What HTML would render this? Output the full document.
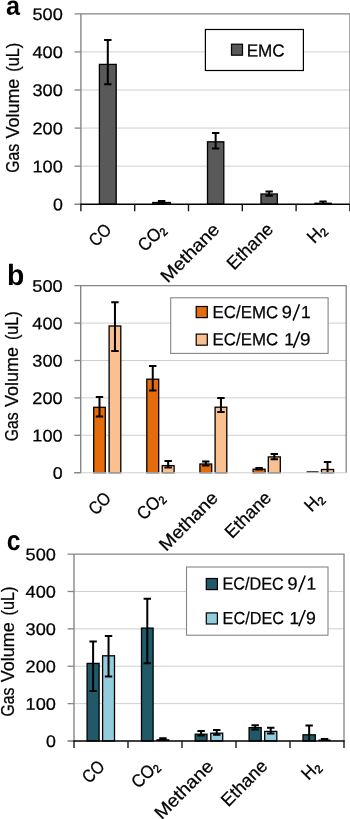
<!DOCTYPE html>
<html><head><meta charset="utf-8"><title>Gas volume charts</title>
<style>
html,body{margin:0;padding:0;background:#fff;}
svg{display:block;font-family:"Liberation Sans",sans-serif;fill:#000;will-change:transform;}
</style></head><body>
<svg width="350" height="819" viewBox="0 0 350 819">
<rect x="0" y="0" width="350" height="819" fill="#fff"/>
<line x1="80.90" y1="166.17" x2="349.90" y2="166.17" stroke="#cfcfcf" stroke-width="1"/>
<line x1="80.90" y1="128.09" x2="349.90" y2="128.09" stroke="#cfcfcf" stroke-width="1"/>
<line x1="80.90" y1="90.01" x2="349.90" y2="90.01" stroke="#cfcfcf" stroke-width="1"/>
<line x1="80.90" y1="51.93" x2="349.90" y2="51.93" stroke="#cfcfcf" stroke-width="1"/>
<rect x="99.40" y="64.40" width="16.80" height="139.85" fill="#595959" stroke="#000" stroke-width="1.3"/>
<rect x="152.80" y="202.50" width="17.60" height="1.75" fill="#595959" stroke="#000" stroke-width="1.3"/>
<rect x="207.50" y="141.80" width="16.30" height="62.45" fill="#595959" stroke="#000" stroke-width="1.3"/>
<rect x="261.00" y="194.00" width="16.30" height="10.25" fill="#595959" stroke="#000" stroke-width="1.3"/>
<rect x="314.30" y="202.60" width="17.50" height="1.65" fill="#000" stroke="none" stroke-width="1"/>
<line x1="74.50" y1="13.85" x2="350.50" y2="13.85" stroke="#868686" stroke-width="1.3"/>
<line x1="349.90" y1="13.85" x2="349.90" y2="204.25" stroke="#868686" stroke-width="1.3"/>
<line x1="80.90" y1="13.85" x2="80.90" y2="204.25" stroke="#868686" stroke-width="1.4"/>
<line x1="74.50" y1="204.25" x2="80.90" y2="204.25" stroke="#868686" stroke-width="1.3"/>
<line x1="74.50" y1="166.17" x2="80.90" y2="166.17" stroke="#868686" stroke-width="1.3"/>
<line x1="74.50" y1="128.09" x2="80.90" y2="128.09" stroke="#868686" stroke-width="1.3"/>
<line x1="74.50" y1="90.01" x2="80.90" y2="90.01" stroke="#868686" stroke-width="1.3"/>
<line x1="74.50" y1="51.93" x2="80.90" y2="51.93" stroke="#868686" stroke-width="1.3"/>
<line x1="74.50" y1="204.25" x2="80.90" y2="204.25" stroke="#868686" stroke-width="1.1"/>
<line x1="80.30" y1="204.25" x2="350.60" y2="204.25" stroke="#000" stroke-width="1.5"/>
<line x1="80.90" y1="204.25" x2="80.90" y2="211.25" stroke="#111" stroke-width="1.35"/>
<line x1="134.70" y1="204.25" x2="134.70" y2="211.25" stroke="#111" stroke-width="1.35"/>
<line x1="188.50" y1="204.25" x2="188.50" y2="211.25" stroke="#111" stroke-width="1.35"/>
<line x1="242.30" y1="204.25" x2="242.30" y2="211.25" stroke="#111" stroke-width="1.35"/>
<line x1="296.10" y1="204.25" x2="296.10" y2="211.25" stroke="#111" stroke-width="1.35"/>
<line x1="349.90" y1="204.25" x2="349.90" y2="211.25" stroke="#111" stroke-width="1.35"/>
<path d="M107.80 40.00V84.30M104.10 40.00H111.50M104.10 84.30H111.50" stroke="#000" stroke-width="2.0" fill="none"/>
<path d="M161.60 200.90V203.00M157.90 200.90H165.30M157.90 203.00H165.30" stroke="#000" stroke-width="2.0" fill="none"/>
<path d="M215.65 133.00V148.50M211.95 133.00H219.35M211.95 148.50H219.35" stroke="#000" stroke-width="2.0" fill="none"/>
<path d="M269.15 191.60V195.70M265.45 191.60H272.85M265.45 195.70H272.85" stroke="#000" stroke-width="2.0" fill="none"/>
<path d="M323.05 201.60V203.40M319.35 201.60H326.75" stroke="#000" stroke-width="2.0" fill="none"/>
<text font-size="16.8" text-anchor="end" font-weight="normal" textLength="9.90" lengthAdjust="spacingAndGlyphs" transform="translate(62.80 210.35) rotate(0.05)" stroke="#000" stroke-width="0.25" >0</text>
<text font-size="16.8" text-anchor="end" font-weight="normal" textLength="30.30" lengthAdjust="spacingAndGlyphs" transform="translate(62.80 172.27) rotate(0.05)" stroke="#000" stroke-width="0.25" >100</text>
<text font-size="16.8" text-anchor="end" font-weight="normal" textLength="30.30" lengthAdjust="spacingAndGlyphs" transform="translate(62.80 134.19) rotate(0.05)" stroke="#000" stroke-width="0.25" >200</text>
<text font-size="16.8" text-anchor="end" font-weight="normal" textLength="30.30" lengthAdjust="spacingAndGlyphs" transform="translate(62.80 96.11) rotate(0.05)" stroke="#000" stroke-width="0.25" >300</text>
<text font-size="16.8" text-anchor="end" font-weight="normal" textLength="30.30" lengthAdjust="spacingAndGlyphs" transform="translate(62.80 58.03) rotate(0.05)" stroke="#000" stroke-width="0.25" >400</text>
<text font-size="16.8" text-anchor="end" font-weight="normal" textLength="30.30" lengthAdjust="spacingAndGlyphs" transform="translate(62.80 19.95) rotate(0.05)" stroke="#000" stroke-width="0.25" >500</text>
<text font-size="18.0" text-anchor="start" font-weight="normal" textLength="28.87" lengthAdjust="spacingAndGlyphs" transform="translate(18.90 172.75) rotate(-90)" stroke="#000" stroke-width="0.25" >Gas</text>
<text font-size="18.0" text-anchor="start" font-weight="normal" textLength="59.87" lengthAdjust="spacingAndGlyphs" transform="translate(18.90 138.55) rotate(-90)" stroke="#000" stroke-width="0.25" >Volume</text>
<text font-size="18.0" text-anchor="start" font-weight="normal" textLength="28.82" lengthAdjust="spacingAndGlyphs" transform="translate(18.90 71.70) rotate(-90)" stroke="#000" stroke-width="0.25" >(uL)</text>
<text font-size="18.0" text-anchor="end" font-weight="normal" textLength="23.31" lengthAdjust="spacingAndGlyphs" transform="translate(112.58 231.07) rotate(-45)" stroke="#000" stroke-width="0.25" >CO</text>
<text font-size="18.0" text-anchor="end" font-weight="normal" textLength="30.79" lengthAdjust="spacingAndGlyphs" transform="translate(166.71 230.72) rotate(-45)" stroke="#000" stroke-width="0.25" >CO<tspan font-size="11.5" dy="2.5" stroke-width="0.5">2</tspan></text>
<text font-size="18.0" text-anchor="end" font-weight="normal" textLength="74.76" lengthAdjust="spacingAndGlyphs" transform="translate(220.67 230.61) rotate(-45)" stroke="#000" stroke-width="0.25" >Methane</text>
<text font-size="18.0" text-anchor="end" font-weight="normal" textLength="56.94" lengthAdjust="spacingAndGlyphs" transform="translate(274.32 230.44) rotate(-45)" stroke="#000" stroke-width="0.25" >Ethane</text>
<text font-size="18.0" text-anchor="end" font-weight="normal" textLength="18.56" lengthAdjust="spacingAndGlyphs" transform="translate(327.27 231.17) rotate(-45)" stroke="#000" stroke-width="0.25" >H<tspan font-size="11.5" dy="2.5" stroke-width="0.5">2</tspan></text>
<rect x="205.40" y="29.50" width="98.00" height="41.00" fill="#fff" stroke="#000" stroke-width="1.2"/>
<rect x="231.50" y="44.20" width="11.00" height="11.00" fill="#595959" stroke="#000" stroke-width="1.2"/>
<text font-size="17.4" text-anchor="start" font-weight="normal" textLength="38.06" lengthAdjust="spacingAndGlyphs" transform="translate(246.63 56.40) rotate(0.05)" stroke="#000" stroke-width="0.25" >EMC</text>
<text font-size="26.52" text-anchor="start" font-weight="bold" textLength="14.00" lengthAdjust="spacingAndGlyphs" transform="translate(6.00 14.73) rotate(0.05)" >a</text>
<line x1="80.70" y1="435.30" x2="346.20" y2="435.30" stroke="#cfcfcf" stroke-width="1"/>
<line x1="80.70" y1="397.90" x2="346.20" y2="397.90" stroke="#cfcfcf" stroke-width="1"/>
<line x1="80.70" y1="360.50" x2="346.20" y2="360.50" stroke="#cfcfcf" stroke-width="1"/>
<line x1="80.70" y1="323.10" x2="346.20" y2="323.10" stroke="#cfcfcf" stroke-width="1"/>
<rect x="93.70" y="407.30" width="11.60" height="65.40" fill="#E46C0A" stroke="#000" stroke-width="1.3"/>
<rect x="109.10" y="326.00" width="11.70" height="146.70" fill="#FAC090" stroke="#000" stroke-width="1.3"/>
<rect x="146.80" y="379.20" width="11.90" height="93.50" fill="#E46C0A" stroke="#000" stroke-width="1.3"/>
<rect x="162.20" y="465.60" width="11.90" height="7.10" fill="#FAC090" stroke="#000" stroke-width="1.3"/>
<rect x="199.90" y="464.00" width="11.80" height="8.70" fill="#E46C0A" stroke="#000" stroke-width="1.3"/>
<rect x="215.10" y="407.20" width="11.70" height="65.50" fill="#FAC090" stroke="#000" stroke-width="1.3"/>
<rect x="253.10" y="469.20" width="12.00" height="3.50" fill="#E46C0A" stroke="#000" stroke-width="1.3"/>
<rect x="268.30" y="456.90" width="12.00" height="15.80" fill="#FAC090" stroke="#000" stroke-width="1.3"/>
<rect x="306.60" y="471.30" width="12.00" height="1.40" fill="#000" stroke="none" stroke-width="1"/>
<rect x="321.50" y="469.50" width="12.10" height="3.20" fill="#FAC090" stroke="#000" stroke-width="1.3"/>
<line x1="74.30" y1="285.70" x2="346.80" y2="285.70" stroke="#868686" stroke-width="1.3"/>
<line x1="346.20" y1="285.70" x2="346.20" y2="472.70" stroke="#868686" stroke-width="1.3"/>
<line x1="80.70" y1="285.70" x2="80.70" y2="472.70" stroke="#868686" stroke-width="1.4"/>
<line x1="74.30" y1="472.70" x2="80.70" y2="472.70" stroke="#868686" stroke-width="1.3"/>
<line x1="74.30" y1="435.30" x2="80.70" y2="435.30" stroke="#868686" stroke-width="1.3"/>
<line x1="74.30" y1="397.90" x2="80.70" y2="397.90" stroke="#868686" stroke-width="1.3"/>
<line x1="74.30" y1="360.50" x2="80.70" y2="360.50" stroke="#868686" stroke-width="1.3"/>
<line x1="74.30" y1="323.10" x2="80.70" y2="323.10" stroke="#868686" stroke-width="1.3"/>
<line x1="80.70" y1="472.70" x2="346.20" y2="472.70" stroke="#cfcfcf" stroke-width="1.1"/>
<line x1="74.30" y1="472.70" x2="81.30" y2="472.70" stroke="#868686" stroke-width="1.1"/>
<path d="M99.50 396.90V416.40M95.80 396.90H103.20M95.80 416.40H103.20" stroke="#000" stroke-width="2.0" fill="none"/>
<path d="M114.95 302.20V351.00M111.25 302.20H118.65M111.25 351.00H118.65" stroke="#000" stroke-width="2.0" fill="none"/>
<path d="M152.75 366.00V390.40M149.05 366.00H156.45M149.05 390.40H156.45" stroke="#000" stroke-width="2.0" fill="none"/>
<path d="M168.15 461.00V467.60M164.45 461.00H171.85M164.45 467.60H171.85" stroke="#000" stroke-width="2.0" fill="none"/>
<path d="M205.80 461.60V465.50M202.10 461.60H209.50M202.10 465.50H209.50" stroke="#000" stroke-width="2.0" fill="none"/>
<path d="M220.95 398.00V412.00M217.25 398.00H224.65M217.25 412.00H224.65" stroke="#000" stroke-width="2.0" fill="none"/>
<path d="M259.10 468.00V469.60M255.40 468.00H262.80M255.40 469.60H262.80" stroke="#000" stroke-width="2.0" fill="none"/>
<path d="M274.30 454.00V459.20M270.60 454.00H278.00M270.60 459.20H278.00" stroke="#000" stroke-width="2.0" fill="none"/>
<path d="M327.55 462.00V472.00M323.85 462.00H331.25" stroke="#000" stroke-width="2.0" fill="none"/>
<text font-size="16.8" text-anchor="end" font-weight="normal" textLength="9.90" lengthAdjust="spacingAndGlyphs" transform="translate(62.60 478.80) rotate(0.05)" stroke="#000" stroke-width="0.25" >0</text>
<text font-size="16.8" text-anchor="end" font-weight="normal" textLength="30.30" lengthAdjust="spacingAndGlyphs" transform="translate(62.60 441.40) rotate(0.05)" stroke="#000" stroke-width="0.25" >100</text>
<text font-size="16.8" text-anchor="end" font-weight="normal" textLength="30.30" lengthAdjust="spacingAndGlyphs" transform="translate(62.60 404.00) rotate(0.05)" stroke="#000" stroke-width="0.25" >200</text>
<text font-size="16.8" text-anchor="end" font-weight="normal" textLength="30.30" lengthAdjust="spacingAndGlyphs" transform="translate(62.60 366.60) rotate(0.05)" stroke="#000" stroke-width="0.25" >300</text>
<text font-size="16.8" text-anchor="end" font-weight="normal" textLength="30.30" lengthAdjust="spacingAndGlyphs" transform="translate(62.60 329.20) rotate(0.05)" stroke="#000" stroke-width="0.25" >400</text>
<text font-size="16.8" text-anchor="end" font-weight="normal" textLength="30.30" lengthAdjust="spacingAndGlyphs" transform="translate(62.60 291.80) rotate(0.05)" stroke="#000" stroke-width="0.25" >500</text>
<text font-size="18.0" text-anchor="start" font-weight="normal" textLength="28.87" lengthAdjust="spacingAndGlyphs" transform="translate(18.00 441.15) rotate(-90)" stroke="#000" stroke-width="0.25" >Gas</text>
<text font-size="18.0" text-anchor="start" font-weight="normal" textLength="59.87" lengthAdjust="spacingAndGlyphs" transform="translate(18.00 406.95) rotate(-90)" stroke="#000" stroke-width="0.25" >Volume</text>
<text font-size="18.0" text-anchor="start" font-weight="normal" textLength="28.82" lengthAdjust="spacingAndGlyphs" transform="translate(18.00 340.10) rotate(-90)" stroke="#000" stroke-width="0.25" >(uL)</text>
<text font-size="18.0" text-anchor="end" font-weight="normal" textLength="23.31" lengthAdjust="spacingAndGlyphs" transform="translate(112.12 499.52) rotate(-45)" stroke="#000" stroke-width="0.25" >CO</text>
<text font-size="18.0" text-anchor="end" font-weight="normal" textLength="30.79" lengthAdjust="spacingAndGlyphs" transform="translate(165.73 499.17) rotate(-45)" stroke="#000" stroke-width="0.25" >CO<tspan font-size="11.5" dy="2.5" stroke-width="0.5">2</tspan></text>
<text font-size="18.0" text-anchor="end" font-weight="normal" textLength="74.76" lengthAdjust="spacingAndGlyphs" transform="translate(219.17 499.06) rotate(-45)" stroke="#000" stroke-width="0.25" >Methane</text>
<text font-size="18.0" text-anchor="end" font-weight="normal" textLength="56.94" lengthAdjust="spacingAndGlyphs" transform="translate(272.30 498.89) rotate(-45)" stroke="#000" stroke-width="0.25" >Ethane</text>
<text font-size="18.0" text-anchor="end" font-weight="normal" textLength="18.56" lengthAdjust="spacingAndGlyphs" transform="translate(324.73 499.62) rotate(-45)" stroke="#000" stroke-width="0.25" >H<tspan font-size="11.5" dy="2.5" stroke-width="0.5">2</tspan></text>
<rect x="170.70" y="297.80" width="157.40" height="55.60" fill="#fff" stroke="#868686" stroke-width="1.1"/>
<line x1="293.10" y1="320.60" x2="299.50" y2="304.20" stroke="#000" stroke-width="1.55"/>
<rect x="196.20" y="306.50" width="11.10" height="11.10" fill="#E46C0A" stroke="#000" stroke-width="1.2"/>
<text font-size="17.4" text-anchor="start" font-weight="normal" textLength="65.48" lengthAdjust="spacingAndGlyphs" transform="translate(212.62 318.10) rotate(0.05)" stroke="#000" stroke-width="0.25" >EC/EMC</text>
<text font-size="17.4" text-anchor="start" font-weight="normal" textLength="10.13" lengthAdjust="spacingAndGlyphs" transform="translate(281.65 318.10) rotate(0.05)" stroke="#000" stroke-width="0.25" >9</text>
<text font-size="17.4" text-anchor="start" font-weight="normal" transform="translate(301.00 318.10) rotate(0.05)" stroke="#000" stroke-width="0.25" >1</text>
<line x1="293.40" y1="347.90" x2="299.80" y2="331.50" stroke="#000" stroke-width="1.55"/>
<rect x="196.20" y="334.10" width="11.10" height="11.10" fill="#FAC090" stroke="#000" stroke-width="1.2"/>
<text font-size="17.4" text-anchor="start" font-weight="normal" textLength="65.48" lengthAdjust="spacingAndGlyphs" transform="translate(212.62 345.30) rotate(0.05)" stroke="#000" stroke-width="0.25" >EC/EMC</text>
<text font-size="17.4" text-anchor="start" font-weight="normal" transform="translate(284.20 345.30) rotate(0.05)" stroke="#000" stroke-width="0.25" >1</text>
<text font-size="17.4" text-anchor="start" font-weight="normal" textLength="10.49" lengthAdjust="spacingAndGlyphs" transform="translate(300.08 345.30) rotate(0.05)" stroke="#000" stroke-width="0.25" >9</text>
<text font-size="29.41" text-anchor="start" font-weight="bold" textLength="17.29" lengthAdjust="spacingAndGlyphs" transform="translate(6.92 284.89) rotate(0.05)" >b</text>
<line x1="74.00" y1="703.62" x2="344.00" y2="703.62" stroke="#cfcfcf" stroke-width="1"/>
<line x1="74.00" y1="666.24" x2="344.00" y2="666.24" stroke="#cfcfcf" stroke-width="1"/>
<line x1="74.00" y1="628.86" x2="344.00" y2="628.86" stroke="#cfcfcf" stroke-width="1"/>
<line x1="74.00" y1="591.48" x2="344.00" y2="591.48" stroke="#cfcfcf" stroke-width="1"/>
<rect x="87.10" y="663.40" width="12.00" height="77.60" fill="#215968" stroke="#000" stroke-width="1.3"/>
<rect x="102.60" y="655.80" width="11.90" height="85.20" fill="#93CDDD" stroke="#000" stroke-width="1.3"/>
<rect x="141.50" y="628.10" width="11.60" height="112.90" fill="#215968" stroke="#000" stroke-width="1.3"/>
<rect x="156.40" y="739.20" width="13.00" height="1.80" fill="#000" stroke="none" stroke-width="1"/>
<rect x="195.20" y="734.20" width="11.80" height="6.80" fill="#215968" stroke="#000" stroke-width="1.3"/>
<rect x="210.80" y="733.20" width="11.90" height="7.80" fill="#93CDDD" stroke="#000" stroke-width="1.3"/>
<rect x="249.10" y="727.60" width="12.10" height="13.40" fill="#215968" stroke="#000" stroke-width="1.3"/>
<rect x="264.70" y="731.40" width="12.10" height="9.60" fill="#93CDDD" stroke="#000" stroke-width="1.3"/>
<rect x="303.00" y="734.80" width="12.30" height="6.20" fill="#215968" stroke="#000" stroke-width="1.3"/>
<rect x="318.50" y="739.50" width="12.10" height="1.50" fill="#000" stroke="none" stroke-width="1"/>
<line x1="67.60" y1="554.10" x2="344.60" y2="554.10" stroke="#868686" stroke-width="1.3"/>
<line x1="344.00" y1="554.10" x2="344.00" y2="741.00" stroke="#868686" stroke-width="1.3"/>
<line x1="74.00" y1="554.10" x2="74.00" y2="741.00" stroke="#868686" stroke-width="1.4"/>
<line x1="67.60" y1="741.00" x2="74.00" y2="741.00" stroke="#868686" stroke-width="1.3"/>
<line x1="67.60" y1="703.62" x2="74.00" y2="703.62" stroke="#868686" stroke-width="1.3"/>
<line x1="67.60" y1="666.24" x2="74.00" y2="666.24" stroke="#868686" stroke-width="1.3"/>
<line x1="67.60" y1="628.86" x2="74.00" y2="628.86" stroke="#868686" stroke-width="1.3"/>
<line x1="67.60" y1="591.48" x2="74.00" y2="591.48" stroke="#868686" stroke-width="1.3"/>
<line x1="67.60" y1="741.00" x2="74.00" y2="741.00" stroke="#868686" stroke-width="1.1"/>
<line x1="73.40" y1="741.00" x2="344.70" y2="741.00" stroke="#000" stroke-width="1.5"/>
<line x1="74.00" y1="741.00" x2="74.00" y2="748.00" stroke="#111" stroke-width="1.35"/>
<line x1="128.00" y1="741.00" x2="128.00" y2="748.00" stroke="#111" stroke-width="1.35"/>
<line x1="182.00" y1="741.00" x2="182.00" y2="748.00" stroke="#111" stroke-width="1.35"/>
<line x1="236.00" y1="741.00" x2="236.00" y2="748.00" stroke="#111" stroke-width="1.35"/>
<line x1="290.00" y1="741.00" x2="290.00" y2="748.00" stroke="#111" stroke-width="1.35"/>
<line x1="344.00" y1="741.00" x2="344.00" y2="748.00" stroke="#111" stroke-width="1.35"/>
<path d="M93.10 641.40V691.10M89.40 641.40H96.80M89.40 691.10H96.80" stroke="#000" stroke-width="2.0" fill="none"/>
<path d="M108.55 636.10V676.40M104.85 636.10H112.25M104.85 676.40H112.25" stroke="#000" stroke-width="2.0" fill="none"/>
<path d="M147.30 598.80V663.30M143.60 598.80H151.00M143.60 663.30H151.00" stroke="#000" stroke-width="2.0" fill="none"/>
<path d="M162.90 738.20V739.80M159.20 738.20H166.60M159.20 739.80H166.60" stroke="#000" stroke-width="2.0" fill="none"/>
<path d="M201.10 730.90V735.60M197.40 730.90H204.80M197.40 735.60H204.80" stroke="#000" stroke-width="2.0" fill="none"/>
<path d="M216.75 730.10V734.80M213.05 730.10H220.45M213.05 734.80H220.45" stroke="#000" stroke-width="2.0" fill="none"/>
<path d="M255.15 725.20V729.60M251.45 725.20H258.85M251.45 729.60H258.85" stroke="#000" stroke-width="2.0" fill="none"/>
<path d="M270.75 727.70V733.40M267.05 727.70H274.45M267.05 733.40H274.45" stroke="#000" stroke-width="2.0" fill="none"/>
<path d="M309.15 725.40V740.60M305.45 725.40H312.85" stroke="#000" stroke-width="2.0" fill="none"/>
<path d="M324.55 738.90V740.40M320.85 738.90H328.25" stroke="#000" stroke-width="2.0" fill="none"/>
<text font-size="16.8" text-anchor="end" font-weight="normal" textLength="9.90" lengthAdjust="spacingAndGlyphs" transform="translate(55.90 747.10) rotate(0.05)" stroke="#000" stroke-width="0.25" >0</text>
<text font-size="16.8" text-anchor="end" font-weight="normal" textLength="30.30" lengthAdjust="spacingAndGlyphs" transform="translate(55.90 709.72) rotate(0.05)" stroke="#000" stroke-width="0.25" >100</text>
<text font-size="16.8" text-anchor="end" font-weight="normal" textLength="30.30" lengthAdjust="spacingAndGlyphs" transform="translate(55.90 672.34) rotate(0.05)" stroke="#000" stroke-width="0.25" >200</text>
<text font-size="16.8" text-anchor="end" font-weight="normal" textLength="30.30" lengthAdjust="spacingAndGlyphs" transform="translate(55.90 634.96) rotate(0.05)" stroke="#000" stroke-width="0.25" >300</text>
<text font-size="16.8" text-anchor="end" font-weight="normal" textLength="30.30" lengthAdjust="spacingAndGlyphs" transform="translate(55.90 597.58) rotate(0.05)" stroke="#000" stroke-width="0.25" >400</text>
<text font-size="16.8" text-anchor="end" font-weight="normal" textLength="30.30" lengthAdjust="spacingAndGlyphs" transform="translate(55.90 560.20) rotate(0.05)" stroke="#000" stroke-width="0.25" >500</text>
<text font-size="18.0" text-anchor="start" font-weight="normal" textLength="28.87" lengthAdjust="spacingAndGlyphs" transform="translate(14.30 716.45) rotate(-90)" stroke="#000" stroke-width="0.25" >Gas</text>
<text font-size="18.0" text-anchor="start" font-weight="normal" textLength="59.87" lengthAdjust="spacingAndGlyphs" transform="translate(14.30 682.25) rotate(-90)" stroke="#000" stroke-width="0.25" >Volume</text>
<text font-size="18.0" text-anchor="start" font-weight="normal" textLength="28.82" lengthAdjust="spacingAndGlyphs" transform="translate(14.30 615.40) rotate(-90)" stroke="#000" stroke-width="0.25" >(uL)</text>
<text font-size="18.0" text-anchor="end" font-weight="normal" textLength="23.31" lengthAdjust="spacingAndGlyphs" transform="translate(105.83 767.82) rotate(-45)" stroke="#000" stroke-width="0.25" >CO</text>
<text font-size="18.0" text-anchor="end" font-weight="normal" textLength="30.79" lengthAdjust="spacingAndGlyphs" transform="translate(160.26 767.47) rotate(-45)" stroke="#000" stroke-width="0.25" >CO<tspan font-size="11.5" dy="2.5" stroke-width="0.5">2</tspan></text>
<text font-size="18.0" text-anchor="end" font-weight="normal" textLength="74.76" lengthAdjust="spacingAndGlyphs" transform="translate(214.52 767.36) rotate(-45)" stroke="#000" stroke-width="0.25" >Methane</text>
<text font-size="18.0" text-anchor="end" font-weight="normal" textLength="56.94" lengthAdjust="spacingAndGlyphs" transform="translate(268.47 767.19) rotate(-45)" stroke="#000" stroke-width="0.25" >Ethane</text>
<text font-size="18.0" text-anchor="end" font-weight="normal" textLength="18.56" lengthAdjust="spacingAndGlyphs" transform="translate(321.72 767.92) rotate(-45)" stroke="#000" stroke-width="0.25" >H<tspan font-size="11.5" dy="2.5" stroke-width="0.5">2</tspan></text>
<rect x="186.50" y="567.00" width="141.50" height="68.20" fill="#fff" stroke="#868686" stroke-width="1.1"/>
<line x1="298.80" y1="591.90" x2="305.20" y2="575.50" stroke="#000" stroke-width="1.55"/>
<rect x="206.30" y="578.50" width="11.10" height="11.10" fill="#215968" stroke="#000" stroke-width="1.2"/>
<text font-size="17.4" text-anchor="start" font-weight="normal" textLength="61.35" lengthAdjust="spacingAndGlyphs" transform="translate(222.38 589.60) rotate(0.05)" stroke="#000" stroke-width="0.25" >EC/DEC</text>
<text font-size="17.4" text-anchor="start" font-weight="normal" textLength="10.07" lengthAdjust="spacingAndGlyphs" transform="translate(287.59 589.60) rotate(0.05)" stroke="#000" stroke-width="0.25" >9</text>
<text font-size="17.4" text-anchor="start" font-weight="normal" transform="translate(306.50 589.60) rotate(0.05)" stroke="#000" stroke-width="0.25" >1</text>
<line x1="298.80" y1="626.30" x2="305.20" y2="610.00" stroke="#000" stroke-width="1.55"/>
<rect x="206.30" y="612.90" width="11.10" height="11.10" fill="#93CDDD" stroke="#000" stroke-width="1.2"/>
<text font-size="17.4" text-anchor="start" font-weight="normal" textLength="61.44" lengthAdjust="spacingAndGlyphs" transform="translate(222.60 623.90) rotate(0.05)" stroke="#000" stroke-width="0.25" >EC/DEC</text>
<text font-size="17.4" text-anchor="start" font-weight="normal" transform="translate(289.40 623.90) rotate(0.05)" stroke="#000" stroke-width="0.25" >1</text>
<text font-size="17.4" text-anchor="start" font-weight="normal" textLength="9.79" lengthAdjust="spacingAndGlyphs" transform="translate(306.02 623.90) rotate(0.05)" stroke="#000" stroke-width="0.25" >9</text>
<text font-size="27.74" text-anchor="start" font-weight="bold" textLength="13.74" lengthAdjust="spacingAndGlyphs" transform="translate(6.82 549.98) rotate(0.05)" >c</text>
</svg>
</body></html>
